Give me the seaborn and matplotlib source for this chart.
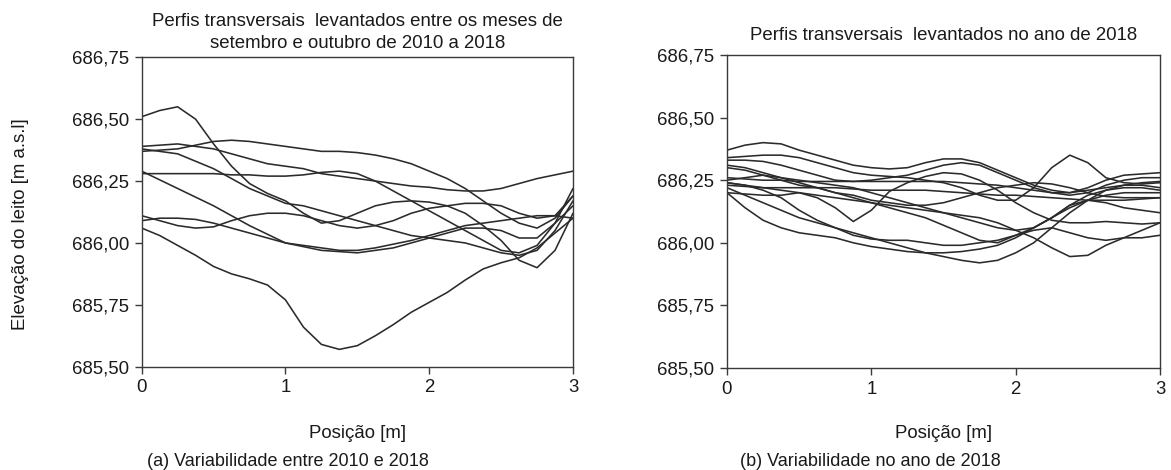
import numpy as np
import pandas as pd
import matplotlib
matplotlib.use("Agg")
import matplotlib.pyplot as plt
import seaborn as sns

# Survey positions across the section [m], every 0.125 m
posicao = [0.0, 0.125, 0.25, 0.375, 0.5, 0.625, 0.75, 0.875, 1.0, 1.125, 1.25, 1.375, 1.5,
           1.625, 1.75, 1.875, 2.0, 2.125, 2.25, 2.375, 2.5, 2.625, 2.75, 2.875, 3.0]

# (a) profiles surveyed in September/October, 2010-2018 [m a.s.l]
perfis_a = {
    "p1": [686.51, 686.535, 686.55, 686.50, 686.40, 686.31, 686.24, 686.20, 686.17, 686.12, 686.08, 686.09, 686.12,
           686.15, 686.165, 686.17, 686.165, 686.15, 686.12, 686.07, 686.01, 685.93, 685.90, 685.97, 686.12],
    "p2": [686.39, 686.395, 686.40, 686.39, 686.38, 686.36, 686.34, 686.32, 686.31, 686.30, 686.28, 686.27, 686.26,
           686.25, 686.24, 686.23, 686.225, 686.215, 686.21, 686.21, 686.22, 686.24, 686.26, 686.275, 686.29],
    "p3": [686.37, 686.375, 686.38, 686.395, 686.41, 686.415, 686.41, 686.40, 686.39, 686.38, 686.37, 686.37, 686.365,
           686.355, 686.34, 686.32, 686.29, 686.26, 686.22, 686.17, 686.12, 686.08, 686.06, 686.10, 686.19],
    "p4": [686.38, 686.37, 686.36, 686.33, 686.30, 686.26, 686.22, 686.19, 686.16, 686.15, 686.13, 686.11, 686.09,
           686.07, 686.05, 686.03, 686.02, 686.01, 686.00, 685.98, 685.96, 685.95, 685.97, 686.05, 686.17],
    "p5": [686.28, 686.28, 686.28, 686.28, 686.28, 686.275, 686.275, 686.27, 686.27, 686.275, 686.285, 686.29, 686.28,
           686.25, 686.21, 686.17, 686.13, 686.09, 686.05, 686.01, 685.97, 685.96, 685.99, 686.08, 686.22],
    "p6": [686.29, 686.255, 686.22, 686.185, 686.15, 686.11, 686.07, 686.035, 686.00, 685.985, 685.97, 685.965, 685.96,
           685.97, 685.98, 686.00, 686.02, 686.04, 686.06, 686.06, 686.05, 686.02, 686.02, 686.08, 686.15],
    "p7": [686.11, 686.09, 686.07, 686.06, 686.065, 686.09, 686.11, 686.12, 686.12, 686.11, 686.09, 686.07, 686.06,
           686.07, 686.09, 686.12, 686.14, 686.15, 686.16, 686.16, 686.15, 686.12, 686.10, 686.11, 686.19],
    "p8": [686.09, 686.10, 686.10, 686.095, 686.08, 686.06, 686.04, 686.02, 686.00, 685.99, 685.98, 685.97, 685.97,
           685.98, 685.995, 686.01, 686.03, 686.05, 686.07, 686.08, 686.09, 686.10, 686.11, 686.11, 686.10],
    "p9": [686.06, 686.03, 685.99, 685.95, 685.905, 685.875, 685.855, 685.83, 685.77, 685.66, 685.59, 685.57, 685.585,
           685.625, 685.67, 685.72, 685.76, 685.80, 685.85, 685.895, 685.92, 685.94, 685.98, 686.04, 686.10],
}

# (b) profiles surveyed during 2018 [m a.s.l]
perfis_b = {
    "r1": [686.37, 686.39, 686.40, 686.395, 686.37, 686.35, 686.33, 686.31, 686.30, 686.295, 686.30, 686.32, 686.335,
           686.335, 686.32, 686.29, 686.26, 686.23, 686.21, 686.20, 686.22, 686.25, 686.27, 686.275, 686.28],
    "r2": [686.34, 686.345, 686.35, 686.35, 686.34, 686.32, 686.30, 686.28, 686.27, 686.265, 686.26, 686.25, 686.24,
           686.22, 686.19, 686.17, 686.17, 686.22, 686.30, 686.35, 686.32, 686.26, 686.24, 686.235, 686.24],
    "r3": [686.33, 686.33, 686.325, 686.31, 686.29, 686.27, 686.25, 686.245, 686.25, 686.26, 686.27, 686.29, 686.31,
           686.32, 686.31, 686.28, 686.25, 686.22, 686.20, 686.19, 686.20, 686.23, 686.25, 686.26, 686.26],
    "r4": [686.31, 686.30, 686.28, 686.26, 686.24, 686.22, 686.20, 686.18, 686.16, 686.14, 686.12, 686.10, 686.07,
           686.04, 686.01, 686.00, 686.03, 686.06, 686.10, 686.14, 686.17, 686.19, 686.20, 686.20, 686.20],
    "r5": [686.30, 686.29, 686.27, 686.25, 686.23, 686.22, 686.20, 686.19, 686.17, 686.16, 686.15, 686.15, 686.16,
           686.18, 686.20, 686.22, 686.23, 686.24, 686.235, 686.22, 686.20, 686.185, 686.18, 686.18, 686.18],
    "r6": [686.25, 686.26, 686.27, 686.26, 686.25, 686.24, 686.23, 686.22, 686.20, 686.18, 686.16, 686.14, 686.12,
           686.10, 686.08, 686.06, 686.05, 686.06, 686.10, 686.15, 686.17, 686.16, 686.14, 686.13, 686.12],
    "r7": [686.26, 686.255, 686.25, 686.25, 686.245, 686.245, 686.245, 686.245, 686.245, 686.245, 686.245, 686.245, 686.245,
           686.24, 686.235, 686.23, 686.22, 686.21, 686.20, 686.20, 686.21, 686.22, 686.23, 686.24, 686.245],
    "r8": [686.23, 686.225, 686.22, 686.22, 686.22, 686.22, 686.22, 686.215, 686.21, 686.21, 686.21, 686.21, 686.205,
           686.20, 686.195, 686.19, 686.19, 686.185, 686.18, 686.175, 686.17, 686.17, 686.17, 686.175, 686.18],
    "r9": [686.20, 686.195, 686.19, 686.19, 686.20, 686.18, 686.14, 686.085, 686.13, 686.205, 686.24, 686.265, 686.28,
           686.275, 686.25, 686.21, 686.16, 686.12, 686.09, 686.08, 686.08, 686.085, 686.08, 686.075, 686.08],
    "r10": [686.22, 686.19, 686.16, 686.13, 686.10, 686.08, 686.06, 686.04, 686.02, 686.00, 685.98, 685.96, 685.945,
            685.93, 685.92, 685.93, 685.96, 686.00, 686.06, 686.12, 686.17, 686.21, 686.23, 686.23, 686.22],
    "r11": [686.24, 686.23, 686.21, 686.18, 686.13, 686.09, 686.06, 686.03, 686.015, 686.01, 686.01, 686.00, 685.99,
            685.99, 686.00, 686.01, 686.03, 686.05, 686.06, 686.04, 686.02, 686.01, 686.02, 686.02, 686.03],
    "r12": [686.20, 686.14, 686.09, 686.06, 686.04, 686.03, 686.02, 686.00, 685.985, 685.975, 685.965, 685.96, 685.96,
            685.965, 685.975, 685.99, 686.02, 686.06, 686.10, 686.15, 686.19, 686.21, 686.22, 686.22, 686.21],
    "r13": [686.24, 686.23, 686.22, 686.21, 686.20, 686.19, 686.18, 686.17, 686.16, 686.15, 686.14, 686.13, 686.12,
            686.11, 686.10, 686.08, 686.05, 686.02, 685.98, 685.945, 685.95, 685.99, 686.02, 686.05, 686.08],
}

y_ticks = [685.50, 685.75, 686.00, 686.25, 686.50, 686.75]
y_tick_labels = ["685,50", "685,75", "686,00", "686,25", "686,50", "686,75"]
x_ticks = [0, 1, 2, 3]
x_tick_labels = ["0", "1", "2", "3"]

titulo_a = ["Perfis transversais  levantados entre os meses de",
            "setembro e outubro de 2010 a 2018"]
titulo_b = "Perfis transversais  levantados no ano de 2018"
legenda_a = "(a) Variabilidade entre 2010 e 2018"
legenda_b = "(b) Variabilidade no ano de 2018"
rotulo_x = "Posição [m]"
rotulo_y = "Elevação do leito [m a.s.l]"


def to_long(perfis):
    rows = []
    for nome, valores in perfis.items():
        for x, y in zip(posicao, valores):
            rows.append({"perfil": nome, "posicao": x, "elevacao": y})
    return pd.DataFrame(rows)


sns.set_theme(style="white")
plt.rcParams["font.family"] = ["Liberation Sans", "DejaVu Sans"]
FS = 13.4
TXT = "#1a1a1a"
LINE = "#2b2b2b"
FRAME = "#3a3a3a"

fig = plt.figure(figsize=(11.71, 4.70), dpi=100)
W, H = 1171, 470


def px_axes(left, top, right, bottom):
    return fig.add_axes([left / W, 1 - bottom / H, (right - left) / W, (bottom - top) / H])


ax_a = px_axes(141.7, 57.3, 573.0, 366.7)
ax_b = px_axes(727.0, 55.0, 1160.0, 368.0)

for ax, perfis in ((ax_a, perfis_a), (ax_b, perfis_b)):
    df = to_long(perfis)
    sns.lineplot(data=df, x="posicao", y="elevacao", units="perfil", estimator=None,
                 color=LINE, linewidth=1.15, ax=ax, legend=False,
                 solid_joinstyle="round")
    ax.set_xlim(0, 3)
    ax.set_ylim(685.50, 686.75)
    ax.set_xticks(x_ticks)
    ax.set_xticklabels(x_tick_labels, fontsize=FS, color=TXT)
    ax.set_yticks(y_ticks)
    ax.set_yticklabels(y_tick_labels, fontsize=FS, color=TXT)
    ax.set_xlabel("")
    ax.set_ylabel("")
    ax.tick_params(axis="both", direction="out", length=5, width=1.0, color=FRAME,
                   bottom=True, left=True, pad=4)
    for s in ax.spines.values():
        s.set_visible(True)
        s.set_color(FRAME)
        s.set_linewidth(1.0)

# titles above each panel
cx_a = (141.7 + 573.0) / 2 / W
cx_b = (727.0 + 1160.0) / 2 / W
fig.text(cx_a, 1 - 21 / H, titulo_a[0], ha="center", va="center", fontsize=FS, color=TXT)
fig.text(cx_a, 1 - 44 / H, titulo_a[1], ha="center", va="center", fontsize=FS, color=TXT)
fig.text(cx_b, 1 - 36 / H, titulo_b, ha="center", va="center", fontsize=FS, color=TXT)

# axis labels
for cx in (cx_a, cx_b):
    fig.text(cx, 1 - 434 / H, rotulo_x, ha="center", va="center", fontsize=FS, color=TXT)
fig.text(21 / W, 1 - 224 / H, rotulo_y, rotation=90, ha="center", va="center",
         fontsize=FS, color=TXT)

# panel captions
fig.text(147 / W, 1 - 461 / H, legenda_a, ha="left", va="center", fontsize=13, color=TXT)
fig.text(740 / W, 1 - 461 / H, legenda_b, ha="left", va="center", fontsize=13, color=TXT)

fig.savefig("out.png", dpi=100, facecolor="white")
